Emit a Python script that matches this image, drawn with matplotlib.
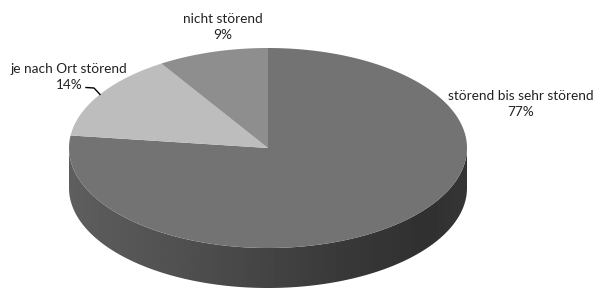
import numpy as np
import matplotlib.pyplot as plt
from matplotlib.patches import Polygon

# data
labels = ['störend bis sehr störend', 'je nach Ort störend', 'nicht störend']
values = [77, 14, 9]
top_colors = ['#737373', '#bdbdbd', '#8e8e8e']

# layout of the 3d pie (pixel coords, y down)
cx, cy = 268, 148
rx, ry = 199, 100
depth = 40

plt.rcParams['font.family'] = ['Lato', 'DejaVu Sans']

fig = plt.figure(figsize=(5.95, 2.89), dpi=100)
ax = fig.add_axes([0, 0, 1, 1])
ax.set_xlim(0, 595)
ax.set_ylim(289, 0)
ax.axis('off')


def ell(t, dy=0):
    t = np.radians(t)
    return np.column_stack([cx + rx * np.cos(t), cy - ry * np.sin(t) + dy])


# side wall (front half), filled with a horizontal gradient
front = np.linspace(180, 360, 200)
side_pts = np.vstack([ell(front), ell(front[::-1], depth)])
side = Polygon(side_pts, closed=True, facecolor='none', edgecolor='none')
ax.add_patch(side)
grad = np.interp(np.linspace(0, 1, 300), [0, 0.35, 0.7, 0.9, 1.0],
                 [0.37, 0.30, 0.22, 0.19, 0.21])
img = ax.imshow(np.tile(grad, (2, 1)), cmap='gray', vmin=0, vmax=1,
                extent=[cx - rx, cx + rx, cy + ry + depth, cy - 5],
                aspect='auto', zorder=1)
img.set_clip_path(side)

# top face slices, starting at 12 o'clock, clockwise
total = sum(values)
start = 90.0
mids = []
for v, c in zip(values, top_colors):
    end = start - v / total * 360
    ts = np.linspace(start, end, 200)
    pts = np.vstack([[cx, cy], ell(ts)])
    ax.add_patch(Polygon(pts, closed=True, facecolor=c, edgecolor='none', zorder=2))
    mids.append((start + end) / 2)
    start = end

# labels
fs = 9.8
ax.text(521, 104, f'{labels[0]}\n{values[0]}%', ha='center', va='center',
        fontsize=fs, color='#222222', linespacing=1.35)
ax.text(69, 77, f'{labels[1]}\n{values[1]}%', ha='center', va='center',
        fontsize=fs, color='#222222', linespacing=1.35)
ax.text(223, 27, f'{labels[2]}\n{values[2]}%', ha='center', va='center',
        fontsize=fs, color='#222222', linespacing=1.35)

# leader line for the small slice
px, py = ell([mids[1]])[0]
ax.plot([86, 94, px], [87.5, 88, py], color='black', lw=1, zorder=3)

fig.savefig('out.png', dpi=100)
